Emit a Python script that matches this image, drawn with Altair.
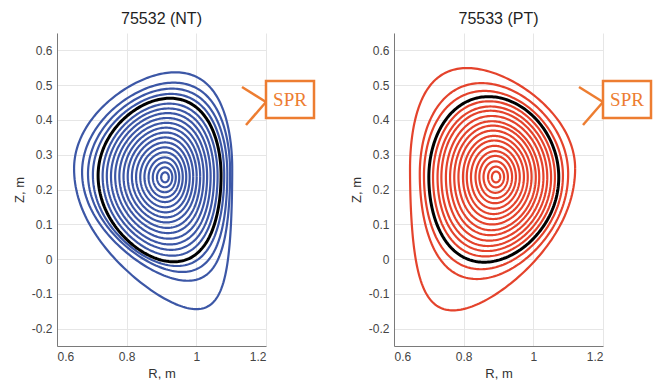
import numpy as np
import pandas as pd
import altair as alt

# Flux-surface shapes (Miller form, separate upper/lower elongation and triangularity).
# Each list runs from the outermost surface in toward the magnetic axis.

# shot 75532, negative triangularity
nt_a = [0.227, 0.2125, 0.200, 0.1885, 0.1765,
        0.165, 0.154, 0.143, 0.132, 0.121, 0.110, 0.099, 0.088,
        0.077, 0.066, 0.055, 0.044, 0.033, 0.022, 0.011]
nt_r0 = [0.876, 0.8845, 0.889, 0.8915, 0.8945,
         0.896, 0.897, 0.898, 0.899, 0.900, 0.901, 0.902, 0.903,
         0.904, 0.905, 0.906, 0.907, 0.908, 0.909, 0.910]
nt_z0 = [0.260, 0.250, 0.245, 0.242, 0.240,
         0.239, 0.239, 0.238, 0.238, 0.238, 0.237, 0.237, 0.237,
         0.236, 0.236, 0.236, 0.235, 0.235, 0.235, 0.235]
nt_ku = [1.22, 1.21, 1.225, 1.236, 1.26,
         1.26, 1.26, 1.27, 1.27, 1.27, 1.28, 1.28, 1.28,
         1.29, 1.29, 1.29, 1.30, 1.30, 1.30, 1.30]
nt_kl = [1.78, 1.47, 1.41, 1.39, 1.405,
         1.39, 1.38, 1.37, 1.36, 1.35, 1.34, 1.33, 1.33,
         1.32, 1.32, 1.31, 1.31, 1.30, 1.30, 1.30]
nt_du = [-0.28, -0.238, -0.205, -0.19, -0.17,
         -0.16, -0.15, -0.14, -0.13, -0.12, -0.11, -0.10, -0.09,
         -0.08, -0.07, -0.06, -0.05, -0.04, -0.03, -0.02]
nt_dl = [-0.546, -0.426, -0.355, -0.28, -0.23,
         -0.21, -0.20, -0.18, -0.17, -0.15, -0.14, -0.12, -0.11,
         -0.10, -0.08, -0.07, -0.05, -0.04, -0.03, -0.02]
nt_black = 4

# shot 75533, positive triangularity
pt_a = [0.237, 0.213, 0.1995, 0.1865,
        0.175, 0.163, 0.152, 0.140, 0.128, 0.117, 0.105, 0.093,
        0.082, 0.070, 0.058, 0.047, 0.035, 0.023, 0.012]
pt_r0 = [0.883, 0.887, 0.8855, 0.8865,
         0.887, 0.888, 0.888, 0.889, 0.889, 0.890, 0.890, 0.891,
         0.891, 0.891, 0.892, 0.892, 0.892, 0.893, 0.893]
pt_z0 = [0.260, 0.245, 0.240, 0.235,
         0.235, 0.235, 0.235, 0.235, 0.235, 0.235, 0.236, 0.236,
         0.236, 0.236, 0.236, 0.236, 0.236, 0.236, 0.236]
pt_ku = [1.22, 1.225, 1.22, 1.244,
         1.25, 1.25, 1.26, 1.26, 1.26, 1.27, 1.27, 1.27,
         1.28, 1.28, 1.28, 1.29, 1.29, 1.29, 1.30]
pt_kl = [1.72, 1.42, 1.35, 1.308,
         1.30, 1.30, 1.30, 1.30, 1.30, 1.30, 1.30, 1.30,
         1.30, 1.30, 1.30, 1.30, 1.30, 1.30, 1.30]
pt_du = [0.31, 0.17, 0.128, 0.08,
         0.08, 0.07, 0.07, 0.06, 0.06, 0.05, 0.05, 0.04,
         0.04, 0.03, 0.03, 0.02, 0.02, 0.01, 0.01]
pt_dl = [0.48, 0.23, 0.18, 0.15,
         0.14, 0.13, 0.12, 0.11, 0.10, 0.09, 0.08, 0.07,
         0.06, 0.05, 0.04, 0.03, 0.03, 0.02, 0.01]
pt_black = 3

x_ticks = [0.6, 0.8, 1.0, 1.2]
y_ticks = [-0.2, -0.1, 0.0, 0.1, 0.2, 0.3, 0.4, 0.5, 0.6]

BLUE = "#3c57a6"
RED = "#e4432c"
ORANGE = "#ed7d31"
FONT = "Liberation Sans"

theta = np.linspace(0.0, 2.0 * np.pi, 241)


def surfaces(a, r0, z0, ku, kl, du, dl, black):
    rows = []
    for s in range(len(a)):
        upper = np.sin(theta) >= 0
        k = np.where(upper, ku[s], kl[s])
        d = np.where(upper, du[s], dl[s])
        r = r0[s] + a[s] * np.cos(theta + np.arcsin(d) * np.sin(theta))
        z = z0[s] + k * a[s] * np.sin(theta)
        for i in range(len(theta)):
            rows.append({"surf": s, "idx": i, "R": float(r[i]), "Z": float(z[i]),
                         "black": s == black})
    return pd.DataFrame(rows)


def panel(df, title, colour):
    xenc = alt.X("R:Q", scale=alt.Scale(domain=[0.6, 1.2], nice=False, zero=False),
                 axis=alt.Axis(values=x_ticks, title="R, m", format="~g"))
    yenc = alt.Y("Z:Q", scale=alt.Scale(domain=[-0.25, 0.65], nice=False, zero=False),
                 axis=alt.Axis(values=y_ticks, title="Z, m",
                               labelExpr="datum.value == 0 ? '0' : (datum.value < 0 ? '-' + format(-datum.value, '.1f') : format(datum.value, '.1f'))"))
    rings = alt.Chart(df[~df.black]).mark_line(color=colour, strokeWidth=2.2).encode(
        x=xenc, y=yenc, detail="surf:N", order="idx:Q")
    lcfs = alt.Chart(df[df.black]).mark_line(color="black", strokeWidth=3).encode(
        x=xenc, y=yenc, detail="surf:N", order="idx:Q")
    one = alt.Data(values=[{}])
    arm1 = alt.Chart(one).mark_rule(color=ORANGE, strokeWidth=2.5).encode(
        x=alt.value(185), y=alt.value(54), x2=alt.value(209), y2=alt.value(69))
    arm2 = alt.Chart(one).mark_rule(color=ORANGE, strokeWidth=2.5).encode(
        x=alt.value(209), y=alt.value(69), x2=alt.value(189), y2=alt.value(92))
    box = alt.Chart(one).mark_rect(fill="white", stroke=ORANGE, strokeWidth=2.5).encode(
        x=alt.value(209), x2=alt.value(257), y=alt.value(48), y2=alt.value(85))
    label = alt.Chart(one).mark_text(text="SPR", font="Liberation Serif", fontSize=19,
                                     color=ORANGE, baseline="middle", align="center").encode(
        x=alt.value(233), y=alt.value(67))
    return alt.layer(rings, lcfs, arm1, arm2, box, label).properties(
        width=209, height=313, title=title)


left = panel(surfaces(nt_a, nt_r0, nt_z0, nt_ku, nt_kl, nt_du, nt_dl, nt_black),
             "75532 (NT)", BLUE)
right = panel(surfaces(pt_a, pt_r0, pt_z0, pt_ku, pt_kl, pt_du, pt_dl, pt_black),
              "75533 (PT)", RED)

chart = alt.hconcat(left, right, spacing=34).properties(
    padding={"left": 13, "top": 11, "right": 5, "bottom": 5}
).configure_view(stroke=None).configure_axis(
    labelFont=FONT, titleFont=FONT, labelFontSize=12, titleFontSize=13,
    labelColor="#444444", titleColor="#333333", titleFontWeight="normal",
    domainColor="#7a7a7a", gridColor="#e6e6e6", ticks=False, labelPadding=5,
    titlePadding=5
).configure_title(font=FONT, fontSize=16, fontWeight="normal", color="#1e1e1e",
                  anchor="middle", offset=6)

chart.save("out.html", embed_options={"renderer": "svg", "actions": False})
